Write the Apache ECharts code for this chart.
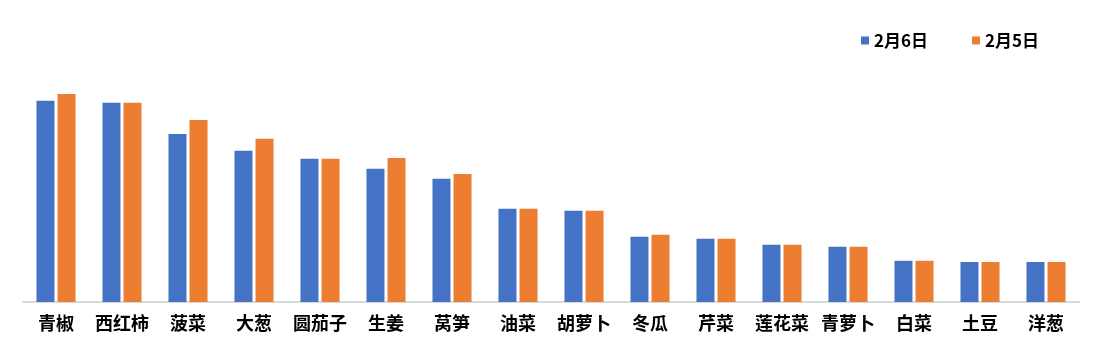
<!DOCTYPE html>
<html>
<head>
<meta charset="utf-8">
<script src="https://cdn.jsdelivr.net/npm/echarts@6/dist/echarts.min.js"></script>
<style>html,body{margin:0;padding:0;background:#fff;}#c{width:1102px;height:352px;}</style>
</head>
<body>
<div id="c"></div>
<script>
const categories = ['青椒','西红柿','菠菜','大葱','圆茄子','生姜','莴笋','油菜','胡萝卜','冬瓜','芹菜','莲花菜','青萝卜','白菜','土豆','洋葱'];
const seriesNames = ['2月6日','2月5日'];
const feb6 = [5.03,4.98,4.20,3.78,3.58,3.33,3.08,2.33,2.28,1.63,1.58,1.43,1.38,1.03,1.00,1.00];
const feb5 = [5.20,4.98,4.55,4.08,3.58,3.60,3.20,2.33,2.28,1.68,1.58,1.43,1.38,1.03,1.00,1.00];
const colors = ['#4472C4','#ED7D31'];

const chart = echarts.init(document.getElementById('c'), null, {renderer:'canvas'});
chart.setOption({
  animation:false,
  backgroundColor:'#fff',
  color:colors,
  legend:{
    data:seriesNames,
    left:856, top:27,
    icon:'rect', itemWidth:8, itemHeight:8, itemGap:44,
    textStyle:{fontFamily:'Noto Sans CJK SC', fontSize:17, color:'#000', fontWeight:'bold'}
  },
  grid:{left:23, right:23, top:62, bottom:50, containLabel:false},
  xAxis:{
    type:'category', data:categories,
    axisTick:{show:false},
    axisLine:{lineStyle:{color:'#D9D9D9', width:2}},
    axisLabel:{margin:12, fontFamily:'Noto Sans CJK SC', fontSize:18, color:'#000', fontWeight:'bold', interval:0}
  },
  yAxis:{type:'value', min:0, max:6, show:false, splitLine:{show:false}},
  series:[
    {name:seriesNames[0], type:'bar', data:feb6, barWidth:18, barGap:'17%'},
    {name:seriesNames[1], type:'bar', data:feb5, barWidth:18, barGap:'17%'}
  ]
});
</script>
</body>
</html>
